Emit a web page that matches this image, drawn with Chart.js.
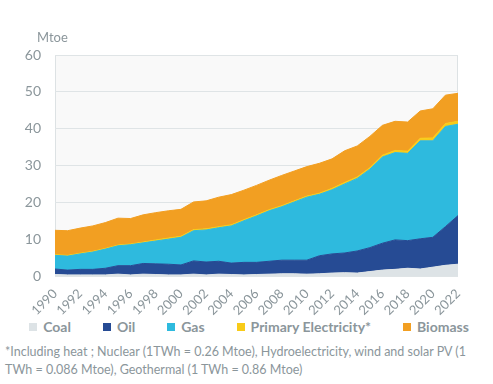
<!DOCTYPE html>
<html lang="en">
<head>
    <meta charset="UTF-8">
    <title>Final energy consumption by source</title>
    <script src="https://cdn.jsdelivr.net/npm/chart.js"></script>
    <style>
        body {
            margin: 0;
            background: #fff;
            font-family: Lato, "Open Sans", sans-serif;
        }
        #wrap {
            position: relative;
            width: 493px;
            height: 384px;
        }
        #wrap canvas {
            position: absolute;
            left: 0;
            top: 0;
        }
        #unit {
            position: absolute;
            left: 37px;
            top: 29px;
            font-size: 13px;
            color: #8b969b;
        }
        #legend {
            position: absolute;
            left: 5px;
            right: 0;
            top: 318px;
            display: flex;
            justify-content: center;
            gap: 32px;
            font-size: 14px;
            font-weight: bold;
            color: #8b969b;
            white-space: nowrap;
        }
        #legend span.box {
            display: inline-block;
            width: 8px;
            height: 8px;
            margin-right: 6px;
            vertical-align: 1px;
        }
        #note {
            position: absolute;
            left: 5px;
            top: 343px;
            font-size: 12.5px;
            line-height: 18px;
            color: #8b969b;
            white-space: nowrap;
        }
    </style>
</head>
<body>
    <div id="wrap">
        <canvas id="energyChart" width="493" height="316"></canvas>
        <div id="unit">Mtoe</div>
        <div id="legend"></div>
        <div id="note">*Including heat ; Nuclear (1TWh = 0.26 Mtoe), Hydroelectricity, wind and solar PV (1<br>TWh = 0.086 Mtoe), Geothermal (1 TWh = 0.86 Mtoe)</div>
    </div>
    <script>
        const years = [];
        for (let y = 1990; y <= 2022; y++) years.push(String(y));

        // Mtoe
        const coal = [0.4, 0.3, 0.3, 0.3, 0.3, 0.5, 0.3, 0.5, 0.4, 0.3, 0.3, 0.5, 0.3, 0.5, 0.4, 0.3, 0.4,
                      0.5, 0.6, 0.6, 0.5, 0.6, 0.8, 0.9, 0.8, 1.2, 1.6, 1.8, 2.1, 1.9, 2.4, 2.9, 3.2];
        const oil = [1.5, 1.3, 1.5, 1.5, 1.8, 2.3, 2.5, 2.9, 2.9, 2.9, 2.7, 3.6, 3.5, 3.5, 3.1, 3.4, 3.3,
                     3.5, 3.7, 3.7, 3.8, 4.9, 5.2, 5.35, 6.0, 6.5, 7.3, 8.0, 7.5, 8.2, 8.1, 10.5, 13.2];
        const gas = [3.7, 3.8, 4.2, 4.7, 5.2, 5.4, 5.7, 5.6, 6.2, 6.8, 7.5, 8.2, 8.7, 9.1, 10.1, 11.3, 12.6,
                     13.7, 14.5, 15.8, 17.1, 16.7, 17.4, 18.75, 19.7, 21.3, 23.4, 23.7, 23.7, 26.6, 26.2, 27.2, 24.8];
        const primaryElec = [0.2, 0.2, 0.2, 0.2, 0.2, 0.2, 0.2, 0.2, 0.3, 0.3, 0.3, 0.3, 0.3, 0.3, 0.3, 0.3, 0.3,
                             0.3, 0.3, 0.3, 0.3, 0.3, 0.4, 0.4, 0.4, 0.4, 0.5, 0.6, 0.6, 0.7, 0.8, 0.8, 0.8];
        const biomass = [6.6, 6.7, 6.8, 6.9, 7.0, 7.3, 6.9, 7.4, 7.4, 7.4, 7.3, 7.5, 7.6, 8.0, 8.2, 8.0, 8.0,
                         8.0, 8.2, 8.1, 8.0, 8.1, 8.0, 8.6, 8.4, 8.5, 8.1, 7.9, 7.9, 7.4, 7.9, 7.7, 7.6];

        const yTicks = [0, 10, 20, 30, 40, 50, 60];
        const grey = '#8b969b';

        function area(label, data, color, fill) {
            return {
                label: label,
                data: data,
                backgroundColor: color,
                borderColor: color,
                borderWidth: 1,
                pointRadius: 0,
                tension: 0,
                fill: fill
            };
        }

        // light plot background and frame, like the spreadsheet chart
        const plotFrame = {
            id: 'plotFrame',
            beforeDraw(chart) {
                const { ctx, chartArea: a } = chart;
                ctx.save();
                ctx.fillStyle = '#f9f9f9';
                ctx.fillRect(a.left, a.top, a.right - a.left, a.bottom - a.top);
                ctx.strokeStyle = '#dde2e4';
                ctx.lineWidth = 1;
                ctx.strokeRect(a.left + 0.5, a.top + 0.5, a.right - a.left - 1, a.bottom - a.top);
                ctx.restore();
            }
        };

        // legend in html so the item spacing can follow the original
        const htmlLegend = {
            id: 'htmlLegend',
            afterUpdate(chart) {
                const box = document.getElementById('legend');
                box.innerHTML = '';
                const items = chart.options.plugins.legend.labels.generateLabels(chart);
                items.forEach(item => {
                    const el = document.createElement('div');
                    const sw = document.createElement('span');
                    sw.className = 'box';
                    sw.style.background = item.fillStyle;
                    el.appendChild(sw);
                    el.appendChild(document.createTextNode(item.text));
                    box.appendChild(el);
                });
            }
        };

        new Chart(document.getElementById('energyChart'), {
            type: 'line',
            data: {
                labels: years,
                datasets: [
                    area('Coal', coal, '#dde3e6', 'origin'),
                    area('Oil', oil, '#264b94', '-1'),
                    area('Gas', gas, '#2ebade', '-1'),
                    area('Primary Electricity*', primaryElec, '#f8cb18', '-1'),
                    area('Biomass', biomass, '#f29f22', '-1')
                ]
            },
            options: {
                responsive: false,
                animation: false,
                layout: { padding: { top: 55, right: 35, left: 0, bottom: 0 } },
                scales: {
                    x: {
                        offset: false,
                        grid: { display: false },
                        border: { display: false },
                        ticks: {
                            autoSkip: false,
                            maxRotation: 45,
                            minRotation: 45,
                            padding: 2,
                            color: grey,
                            font: { family: 'Lato', size: 13 },
                            callback: (v, i) => (i % 2 === 0 ? years[i] : '')
                        },
                        afterFit: s => { s.height = 40; }
                    },
                    y: {
                        stacked: true,
                        min: 0,
                        max: 60,
                        afterBuildTicks: s => { s.ticks = yTicks.map(v => ({ value: v })); },
                        grid: { color: '#dfe4e6', drawTicks: false },
                        border: { display: false },
                        ticks: {
                            padding: 14,
                            color: grey,
                            font: { family: 'Lato', size: 14 }
                        },
                        afterFit: s => { s.width = 55; }
                    }
                },
                plugins: {
                    legend: { display: false },
                    tooltip: { enabled: false }
                }
            },
            plugins: [plotFrame, htmlLegend]
        });
    </script>
</body>
</html>
